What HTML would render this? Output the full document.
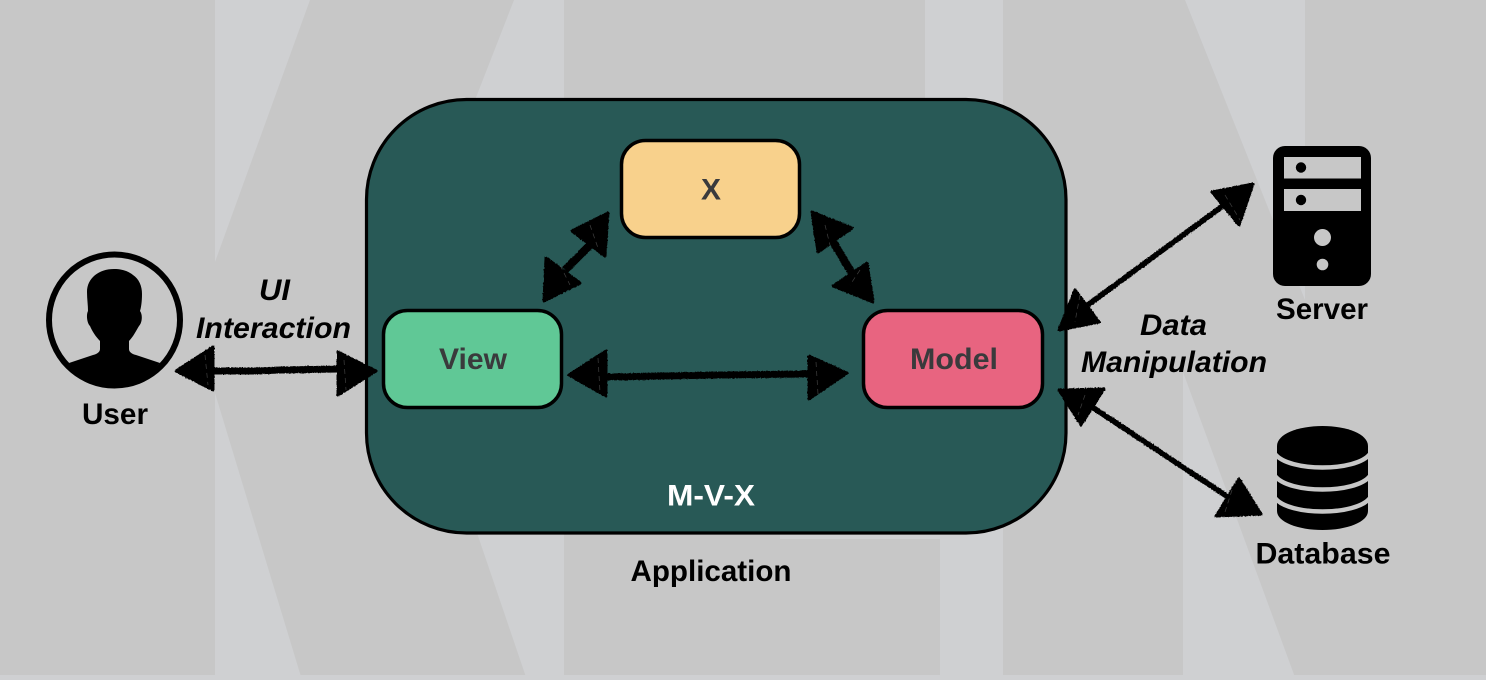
<!DOCTYPE html>
<html><head><meta charset="utf-8"><style>
html,body{margin:0;padding:0;width:1486px;height:680px;overflow:hidden;background:#c7c7c7}
svg{display:block}
text{font-family:"Liberation Sans",Arial,sans-serif;font-weight:bold;font-size:30px}
.i{font-style:italic}
</style></head><body>
<svg width="1486" height="680" viewBox="0 0 1486 680" xmlns="http://www.w3.org/2000/svg">
<defs><filter id="r" x="-10%" y="-10%" width="120%" height="120%"><feTurbulence type="fractalNoise" baseFrequency="0.6" numOctaves="2" seed="4"/><feDisplacementMap in="SourceGraphic" scale="2" xChannelSelector="R" yChannelSelector="G"/></filter></defs>
<rect width="1486" height="680" fill="#c7c7c7"/>
<g fill="#cfd0d2">
<polygon points="215,0 310,0 215,262"/>
<polygon points="215,393 302,680 215,680"/>
<polygon points="514,0 564,0 564,100 475,100"/>
<polygon points="476,530 564,530 564,680 527,680"/>
<rect x="925" y="0" width="78" height="110"/>
<polygon points="925,500 1003,500 1003,680 940,680 940,539 780,539 780,530 925,530"/>
<polygon points="1185,0 1305,0 1305,300"/>
<polygon points="1183,372 1296,680 1183,680"/>
<rect x="0" y="675" width="1486" height="5"/>
</g>
<rect x="366.500" y="99.500" width="699.500" height="433.500" rx="100" ry="100" fill="#285956" stroke="#000" stroke-width="3.200"/>
<rect x="621.500" y="140.500" width="178" height="97" rx="24" fill="#f8d18c" stroke="#000" stroke-width="3.500"/>
<rect x="383.500" y="310.500" width="178" height="97" rx="24" fill="#60c896" stroke="#000" stroke-width="3.500"/>
<rect x="863.500" y="310.500" width="179" height="97" rx="24" fill="#e86480" stroke="#000" stroke-width="3.500"/>
<g fill="#3a3a3c" text-anchor="middle">
<text x="711" y="199.500" textLength="20" lengthAdjust="spacingAndGlyphs">X</text>
<text x="473" y="369" textLength="68" lengthAdjust="spacingAndGlyphs">View</text>
<text x="954" y="369" textLength="88" lengthAdjust="spacingAndGlyphs">Model</text>
</g>
<text x="711" y="505.500" fill="#fff" text-anchor="middle" textLength="88" lengthAdjust="spacingAndGlyphs">M-V-X</text>
<g fill="#000" text-anchor="middle">
<text x="115" y="424" textLength="66" lengthAdjust="spacingAndGlyphs">User</text>
<text x="711" y="581" textLength="161" lengthAdjust="spacingAndGlyphs">Application</text>
<text x="1322" y="319" textLength="92" lengthAdjust="spacingAndGlyphs">Server</text>
<text x="1323" y="563.500" textLength="135" lengthAdjust="spacingAndGlyphs">Database</text>
<text class="i" x="274.500" y="300" textLength="31" lengthAdjust="spacingAndGlyphs">UI</text>
<text class="i" x="273.500" y="338" textLength="155" lengthAdjust="spacingAndGlyphs">Interaction</text>
<text class="i" x="1173.500" y="335" textLength="67" lengthAdjust="spacingAndGlyphs">Data</text>
<text class="i" x="1174" y="372" textLength="186" lengthAdjust="spacingAndGlyphs">Manipulation</text>
</g>
<circle cx="114.500" cy="320" r="65.500" fill="none" stroke="#000" stroke-width="6"/>
<path fill="#000" d="M87,292 C87,278 99,269 114,269 C122,269 128,271 133,275 C139,279 142,286 142,294 C142,302 141,308 140,311 C143,315 142,323 139,326 C136,331 133,337 129,341 L129,349 C129,352 132,354 136,355 L160,363 C146,379 131,386 114.500,386 C97,386 81,379 69,363 L93,355 C97,354 100,352 100,349 L100,341 C96,337 92,331 90,326 C87,323 86,315 88,311 C88,305 87,299 87,292 Z"/>
<rect x="1273" y="146" width="98" height="140" rx="12" fill="#000"/>
<rect x="1284" y="157" width="77" height="21.500" fill="#c7c7c7"/>
<rect x="1284" y="189" width="77" height="22" fill="#c7c7c7"/>
<circle cx="1301" cy="167.500" r="5.200" fill="#000"/><circle cx="1301" cy="200" r="5.200" fill="#000"/>
<circle cx="1322.500" cy="237.500" r="8.500" fill="#c7c7c7"/><circle cx="1322.500" cy="264.500" r="5.800" fill="#c7c7c7"/>
<path fill="#000" d="M1277,446 C1277,434 1298,426 1322.500,426 C1347,426 1368,434 1368,446 L1368,511 C1368,522 1347,530 1322.500,530 C1298,530 1277,522 1277,511 Z"/>
<g fill="none" stroke="#c7c7c7" stroke-width="4.500">
<path d="M1275,454 C1282,463 1302,467.500 1322.500,467.500 C1343,467.500 1363,463 1370,454"/>
<path d="M1275,476 C1282,485 1302,489.500 1322.500,489.500 C1343,489.500 1363,485 1370,476"/>
<path d="M1275,498 C1282,507 1302,511.500 1322.500,511.500 C1343,511.500 1363,507 1370,498"/>
</g>
<g filter="url(#r)" fill="#000" stroke="#000" stroke-linejoin="round">
<path stroke-width="7" d="M212,371 L255,371 L280,370 L339,369"/>
<polygon stroke-width="3" points="176,371 213,347 213,390"/><polygon stroke-width="3" points="376,371 338,352 338,395"/>
<path stroke-width="7" d="M605,377 L720,375 L810,374"/>
<polygon stroke-width="3" points="569,375 606,351 606,396"/><polygon stroke-width="3" points="847,373 809,356 809,399"/>
<path stroke-width="8" d="M590,245 L565,270"/>
<polygon stroke-width="3" points="608,213 572,231 605,256"/><polygon stroke-width="3" points="544,301 546,258 580,283"/>
<path stroke-width="8" d="M832,240 L853,275"/>
<polygon stroke-width="3" points="812,212 852,228 818,252"/><polygon stroke-width="3" points="873,302 867,263 833,286"/>
<path stroke-width="5.500" d="M1224,205 L1085,307"/>
<polygon stroke-width="3" points="1253,184 1212,192 1239,225"/><polygon stroke-width="3" points="1059,330 1075,290 1099,322"/>
<path stroke-width="5.500" d="M1092,407 L1228,497"/>
<polygon stroke-width="3" points="1059,390 1104,389 1081,425"/><polygon stroke-width="3" points="1261,514 1239,479 1216,516"/>
</g>
<g fill="none" stroke="#5a5a5a" stroke-width="0.700" stroke-dasharray="5 4" opacity="0.7">
<path d="M205,355 L208,385 M344,360 L346,390"/>
<path d="M598,358 L600,392 M816,362 L818,394"/>
<path d="M590,225 L598,248 M560,265 L570,285 M825,225 L830,245 M860,270 L850,285"/>
<path d="M1225,195 L1240,220 M1080,295 L1075,322 M1085,395 L1078,415 M1232,490 L1225,512"/>
</g>
</svg>
</body></html>
